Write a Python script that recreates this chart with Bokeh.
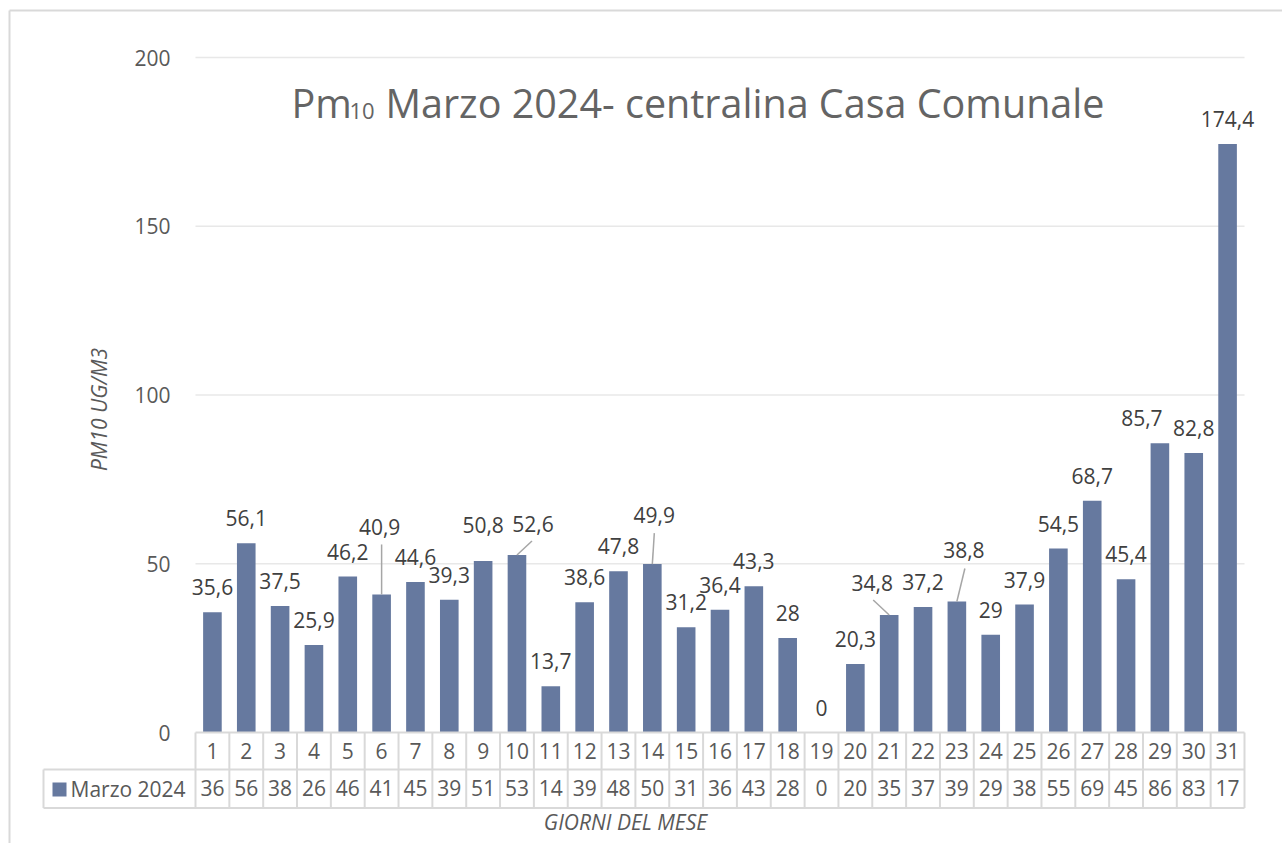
import math
from bokeh.plotting import figure
from bokeh.models import Range1d, ColumnDataSource
from bokeh.core.properties import value
from bokeh.embed import file_html
from bokeh.resources import INLINE

# ---------------- data ----------------
days = list(range(1, 32))
pm10 = [35.6, 56.1, 37.5, 25.9, 46.2, 40.9, 44.6, 39.3, 50.8, 52.6,
        13.7, 38.6, 47.8, 49.9, 31.2, 36.4, 43.3, 28, 0, 20.3,
        34.8, 37.2, 38.8, 29, 37.9, 54.5, 68.7, 45.4, 85.7, 82.8, 174.4]
table_values = ["36", "56", "38", "26", "46", "41", "45", "39", "51", "53",
                "14", "39", "48", "50", "31", "36", "43", "28", "0", "20",
                "35", "37", "39", "29", "38", "55", "69", "45", "86", "83", "17"]
series_name = "Marzo 2024"
y_ticks = [0, 50, 100, 150, 200]
title_main = "Pm"
title_sub = "10"
title_rest = "Marzo 2024- centralina Casa Comunale"
y_title = "PM10 UG/M3"
x_title = "GIORNI DEL MESE"

# ---------------- style / layout ----------------
BAR = "#66799f"
TXT = "#595959"
TITLE = "#646464"
LBL = "#404040"
GRID = "#e8e8e8"
TABLE = "#d9d9d9"
FONT = "Open Sans"

W, H = 1282, 843
FL, FR, FT, FB = 195, 1244, 57, 732      # plot area in page pixels
XMIN, XMAX, YMIN, YMAX = 0.5, 31.5, 0, 200
PXX = (FR - FL) / (XMAX - XMIN)
PXY = (FB - FT) / (YMAX - YMIN)


def X(px):
    return XMIN + (px - FL) / PXX


def Y(py):
    return YMIN + (FB - py) / PXY


# label offsets in pixels (dx, dy; dy positive = down)
label_shift = {6: (-2, -67), 9: (0, -36), 10: (16, -31), 14: (2, -49),
               21: (-17, -32), 23: (7, -52), 29: (-18, -25)}
leader_end = {6: (0, -50), 10: (15, -14), 14: (2, -31), 21: (-16, -15), 23: (8, -33)}

p = figure(width=W, height=H, x_range=Range1d(X(0), X(W)), y_range=Range1d(Y(H), Y(0)),
           output_backend="svg", toolbar_location=None,
           x_axis_location=None, y_axis_location=None,
           min_border=0, min_border_left=0, min_border_right=0,
           min_border_top=0, min_border_bottom=0)
p.title.visible = False
p.outline_line_color = None
p.background_fill_color = "white"
p.border_fill_color = "white"
p.grid.visible = False


def txt(x, y, text, size="21px", color=TXT, align="center", style="normal", angle=0):
    return dict(x=x, y=y, text=text, text_align=align, text_baseline="middle",
                text_font=value(FONT), text_font_size=size, text_color=color,
                text_font_style=style, angle=angle)


# horizontal grid lines (value axis)
grid_src = ColumnDataSource(dict(y=y_ticks[1:], x0=[XMIN] * 4, x1=[XMAX] * 4))
p.segment(x0="x0", y0="y", x1="x1", y1="y", source=grid_src, line_color=GRID, line_width=1.5)

# value axis tick labels
tick_src = ColumnDataSource(dict(y=y_ticks, t=[str(v) for v in y_ticks]))
p.text(source=tick_src, **txt(X(170), "y", "t", align="right"))
p.text(**txt([X(98)], [Y(409)], [y_title], size="21px", style="italic", angle=math.pi / 2))

# bars
labels = [f"{v:g}".replace(".", ",") for v in pm10]
dx = [label_shift.get(d, (0, -25))[0] for d in days]
dy = [label_shift.get(d, (0, -25))[1] for d in days]
src = ColumnDataSource(dict(day=days, val=pm10, lab=labels, dx=dx, dy=dy,
                            tv=table_values))
p.vbar(x="day", top="val", width=0.55, source=src, fill_color=BAR, line_color=None)

# leader lines
ld = [d for d in days if d in leader_end]
lsrc = ColumnDataSource(dict(
    x0=ld, y0=[pm10[d - 1] for d in ld],
    x1=[d + leader_end[d][0] / PXX for d in ld],
    y1=[pm10[d - 1] - leader_end[d][1] / PXY for d in ld]))
p.segment(x0="x0", y0="y0", x1="x1", y1="y1", source=lsrc, line_color="#a6a6a6", line_width=1.5)

# data labels
p.text(x="day", y="val", text="lab", x_offset="dx", y_offset="dy", source=src,
       text_align="center", text_baseline="middle", text_font=value(FONT),
       text_font_size="21px", text_color=LBL)

# ---------------- data table below ----------------
y_mid = Y(769)
y_bot = Y(807.5)
x_leg = X(43)
xs0, ys0, xs1, ys1 = [], [], [], []
for (xa, xb, yy) in [(XMIN, XMAX, 0), (x_leg, XMAX, y_mid), (x_leg, XMAX, y_bot)]:
    xs0.append(xa); xs1.append(xb); ys0.append(yy); ys1.append(yy)
for k in range(len(days) + 1):
    xx = XMIN + k
    xs0.append(xx); xs1.append(xx); ys0.append(0); ys1.append(y_bot)
xs0.append(x_leg); xs1.append(x_leg); ys0.append(y_mid); ys1.append(y_bot)
# chart outer border (left / top)
xs0 += [X(9), X(9)]; xs1 += [X(9), X(W + 5)]
ys0 += [Y(10), Y(10)]; ys1 += [Y(H + 5), Y(10)]
tsrc = ColumnDataSource(dict(x0=xs0, y0=ys0, x1=xs1, y1=ys1))
p.segment(x0="x0", y0="y0", x1="x1", y1="y1", source=tsrc, line_color=TABLE, line_width=2)

# category labels (header row) and values row
p.text(source=src, **txt("day", Y(750.5), "day"))
p.text(source=src, **txt("day", Y(787.5), "tv"))

# legend cell
p.rect(x=[X(59)], y=[Y(789)], width=14, height=14, width_units="screen",
       height_units="screen", fill_color=BAR, line_color=None)
p.text(**txt([X(70)], [Y(788)], [series_name], align="left"))

p.text(**txt([X(625)], [Y(821.5)], [x_title], size="21px", style="italic"))

# title inside the plot area
p.text(**txt([X(291)], [Y(102)], [title_main], size="39.5px", align="left", color=TITLE))
p.text(**txt([X(349)], [Y(110)], [title_sub], size="22px", align="left", color=TITLE))
p.text(**txt([X(385)], [Y(102)], [title_rest], size="39.5px", align="left", color=TITLE))

open("out.html", "w").write(file_html(p, INLINE))
